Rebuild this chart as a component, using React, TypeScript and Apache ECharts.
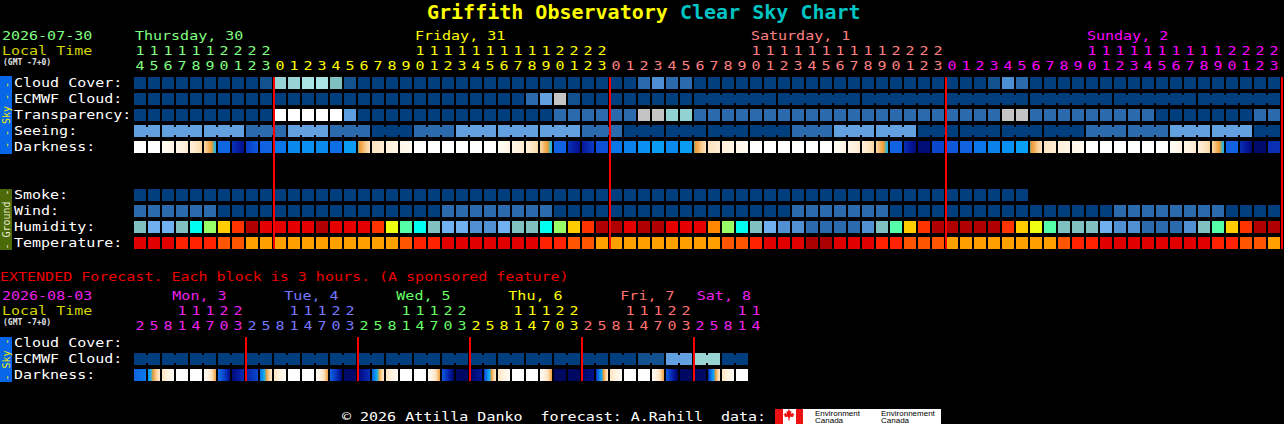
import React, { useEffect, useRef } from 'react';
import * as echarts from 'echarts';

const FONT = '"DejaVu Sans Mono", "Liberation Mono", monospace';

// ---------- time axis (tick labels) ----------
const FULL_DAY = [0, 1, 2, 3, 4, 5, 6, 7, 8, 9, 10, 11, 12, 13, 14, 15, 16, 17, 18, 19, 20, 21, 22, 23];
const EXT_DAY = [2, 5, 8, 11, 14, 17, 20, 23];

const mainDate = '2026-07-30';
const mainDayNames = ['Thursday, 30', 'Friday, 31', 'Saturday, 1', 'Sunday, 2'];
const mainDayHours = [[14, 15, 16, 17, 18, 19, 20, 21, 22, 23], FULL_DAY, FULL_DAY, FULL_DAY];

const extDate = '2026-08-03';
const extDayNames = ['Mon, 3', 'Tue, 4', 'Wed, 5', 'Thu, 6', 'Fri, 7', 'Sat, 8'];
const extDayHours = [EXT_DAY, EXT_DAY, EXT_DAY, EXT_DAY, EXT_DAY, [2, 5, 8, 11, 14]];

const skyRows = ['Cloud Cover:', 'ECMWF Cloud:', 'Transparency:', 'Seeing:', 'Darkness:'];
const groundRows = ['Smoke:', 'Wind:', 'Humidity:', 'Temperature:'];
const extRows = ['Cloud Cover:', 'ECMWF Cloud:', 'Darkness:'];

// ---------- hourly forecast ----------
// cloud cover, %
const cloudCover = [
  0, 0, 0, 0, 0, 0, 0, 0, 0, 10,
  60, 60, 70, 70, 50, 10, 0, 0, 0, 0,
  0, 0, 0, 0, 0, 0, 0, 0, 0, 0,
  0, 0, 0, 0, 0, 0, 20, 30, 20, 20,
  0, 0, 0, 0, 0, 0, 0, 0, 0, 0,
  0, 0, 0, 0, 0, 0, 0, 0, 0, 0,
  0, 10, 30, 20, 0, 0, 0, 0, 0, 0,
  0, 0, 0, 0, 0, 0, 0, 0, 0, 0,
  0, 0,
];
// ECMWF cloud, %: hourly first, then 6 hour blocks
const ecmwfHourly = [
  0, 0, 0, 0, 0, 0, 0, 0, 0, 0,
  0, 0, 0, 0, 0, 0, 0, 0, 0, 0,
  0, 0, 0, 0, 0, 0, 0, 0, 20, 40,
  80, 10, 0, 0, 0, 0, 0, 0, 0, 0,
];
const ecmwfSixHourly = [0, 0, 0, 0, 0, 0, 0];
// 0 transparent, 1 above avg, 2 average, 3 below avg, 4 poor, 5 too cloudy
const transparency = [
  0, 0, 0, 0, 0, 0, 0, 0, 0, 0,
  5, 5, 5, 5, 5, 2, 0, 0, 0, 0,
  0, 0, 0, 0, 0, 0, 0, 0, 0, 0,
  1, 1, 1, 1, 1, 1, 4, 4, 3, 3,
  1, 1, 1, 1, 1, 1, 1, 1, 1, 1,
  1, 1, 1, 1, 1, 1, 1, 1, 1, 1,
  1, 1, 4, 4, 1, 1, 1, 1, 1, 1,
  1, 1, 1, 0, 0, 0, 0, 0, 0, 0,
  1, 1,
];
// seeing x/5, one value per 3 hour block
const seeing3h = [3, 3, 3, 4, 3, 4, 5, 4, 3, 3, 3, 4, 5, 5, 5, 5, 4, 3, 3, 5, 5, 5, 5, 4, 4, 3, 3, 5];
// limiting magnitude; [start, end] when it changes within the hour
const darkness: (number | number[])[] = [
  -4, -4, [-3, -1.5], [-2, -0.5], [-1, 0.5], [0.5, 2.6], 4.7, [5.8, 6.4], [5.6, 5.0], 4.8,
  4.3, 3.8, 3.6, 3.8, 4.5, 3.2, [2.2, 0], [0, -0.8], [-1, -1.6], [-2, -2.6],
  -4, -4, -4, -4, -4, -4, [-3, -1.5], [-2, -0.5], [-1, 0.5], [0.5, 2.6],
  4.8, [5.8, 6.4], [6.2, 5.6], 5.2, 4.3, 4.0, 3.6, 3.2, 3.8, 3.2,
  [2.2, 0], [0, -0.8], [-1, -1.6], [-2, -2.6], -4, -4, -4, -4, -4, -4,
  [-3, -1.5], [-2, -0.5], [-1, 0.5], [0.5, 2.6], 4.8, [5.8, 6.6], 6.6, 5.4, 5.0, 4.8,
  4.3, 4.0, 3.6, 3.1, [2.2, 0], [0, -0.8], [-1, -1.6], [-2, -2.6], -4, -4,
  -4, -4, -4, -4, [-3, -1.5], [-2, -0.5], [-1, 0.5], [0.5, 2.6], 4.8, [5.8, 6.6],
  6.8, 5.8,
];
// smoke, ug/m^3
const smoke = [
  0, 0, 0, 0, 0, 0, 0, 0, 0, 0,
  0, 0, 0, 0, 0, 0, 0, 0, 0, 0,
  0, 0, 0, 0, 0, 0, 0, 0, 0, 0,
  0, 0, 0, 0, 0, 0, 0, 0, 0, 0,
  0, 0, 0, 0, 0, 0, 0, 0, 0, 0,
  0, 0, 0, 0, 0, 0, 0, 0, 0, 0,
  0, 0, 0, 0,
];
const windMph = [
  8, 8, 7, 7, 7, 6, 5, 4, 4, 3,
  3, 3, 3, 3, 3, 3, 3, 4, 4, 5,
  5, 5, 6, 7, 8, 8, 8, 7, 7, 6,
  5, 4, 4, 3, 3, 3, 3, 3, 3, 3,
  3, 3, 3, 4, 4, 5, 5, 6, 7, 8,
  8, 8, 7, 6, 5, 5, 4, 3, 3, 3,
  3, 3, 3, 3, 3, 3, 4, 4, 5, 5,
  6, 7, 8, 9, 9, 8, 7, 6, 5, 4,
  4, 3,
];
const humidity = [
  43, 38, 38, 43, 48, 58, 68, 78, 94, 86,
  86, 86, 86, 94, 86, 86, 86, 78, 63, 53,
  48, 43, 38, 38, 33, 33, 38, 43, 43, 48,
  58, 68, 78, 94, 94, 86, 94, 94, 86, 86,
  86, 73, 58, 48, 43, 38, 33, 33, 28, 28,
  28, 28, 33, 43, 53, 68, 78, 94, 94, 94,
  94, 94, 78, 68, 63, 53, 43, 43, 43, 38,
  33, 33, 28, 28, 28, 33, 43, 53, 68, 78,
  94, 94,
];
const temperatureF = [
  84, 83, 82, 78, 77, 76, 74, 72, 70, 69,
  68, 67, 67, 66, 66, 65, 65, 66, 68, 72,
  76, 78, 81, 83, 85, 86, 85, 84, 82, 79,
  77, 74, 72, 70, 69, 68, 67, 66, 65, 65,
  66, 68, 72, 74, 78, 82, 84, 86, 88, 88,
  86, 84, 81, 78, 76, 75, 73, 71, 70, 69,
  68, 67, 66, 66, 67, 69, 72, 76, 78, 80,
  82, 84, 85, 85, 84, 83, 81, 79, 77, 74,
  72, 70,
];

// ---------- extended forecast, 3 hour blocks ----------
const extEcmwf6h = [0, 0, 0, 0, 0, 0, 0, 0, 0, 0, 0, 0, 0, 0, 0, 0, 0, 0, 10, 40, 60, 0];
const extDarkness: (number | number[])[] = [
  [4.8, 4.2], [3.5, -0.5], [0, -3], -4, -4, [-3, 1.8], [4.5, 6.4], [6.6, 5.8],
  [6.0, 5.4], [4.5, -0.5], [0, -3], -4, -4, [-3, 1.8], [4.8, 6.6], 6.8,
  [6.6, 5.8], [5.0, -0.5], [0, -3], -4, -4, [-3, 1.8], [5.0, 6.8], 6.9,
  [6.8, 6.2], [5.5, -0.5], [0, -3], -4, -4, [-3, 1.8], 6.9, 6.9,
  [6.8, 6.4], [5.8, -0.5], [0, -3], -4, -4, [-3, 1.8], [5.0, 6.9], 6.9,
  6.9, [6.0, -0.5], [0, -3], -4,
];

// ---------- colours ----------
const mainDayColors = ['#80ff80', '#ffff00', '#ff8080', '#ff00ff'];
const extDayColors = ['#ee22ee', '#7878ff', '#66ff66', '#ffff00', '#ff7070', '#ee22ee'];
const CLOUD_COLORS = ['#003e7e', '#13508e', '#2a6aad', '#4d8fd2', '#62a0e0', '#80c0c0', '#99d4d4', '#a8e4e4', '#c4c4c4', '#e2e2e2', '#ffffff'];
const TRANSPARENCY_COLORS = ['#003e7e', '#2a6aad', '#5c9ee0', '#92d2d2', '#c4c4c4', '#ffffff'];
const SEEING_COLORS = ['#c4c4c4', '#c4c4c4', '#80c0c0', '#62a0e0', '#2a6aad', '#003e7e'];
const SMOKE_BANDS: [number, string][] = [[2, '#003e7e'], [5, '#2a6aad'], [10, '#62a0e0'], [999, '#80c0c0']];
const WIND_BANDS: [number, string][] = [[5, '#003e7e'], [11, '#2a6aad'], [16, '#62a0e0'], [999, '#80c0c0']];
const HUMIDITY_BANDS: [number, string][] = [
  [30, '#2a6aad'], [35, '#4f8fd2'], [40, '#70b0f0'], [45, '#80c0c0'], [50, '#00ffee'], [55, '#55ffaa'],
  [60, '#99ff66'], [65, '#eeff11'], [70, '#ffcc00'], [75, '#ff8800'], [80, '#ff3300'], [90, '#e40000'], [100, '#b00000'],
];
const TEMP_BANDS: [number, string][] = [[70, '#ffa000'], [75, '#ff5500'], [79, '#ff2200'], [86, '#e00000'], [200, '#aa0000']];
const DARK_RAMP: [number, string][] = [
  [-4, '#ffffff'], [-2.5, '#fffaf0'], [-1, '#fff0da'], [0, '#fde3bf'], [0.8, '#f8cd92'], [1.4, '#f3ae5a'],
  [1.9, '#eb9a2c'], [2.3, '#38b6d0'], [3.0, '#0aa2f8'], [3.6, '#0a90f0'], [4.2, '#0a7ae8'], [4.8, '#1062e0'],
  [5.3, '#0a4cd2'], [5.8, '#082fb4'], [6.2, '#04189c'], [6.6, '#000c78'], [7.0, '#00085a'],
];

const band = (bands: [number, string][], v: number) => (bands.find((b) => v <= b[0]) || bands[bands.length - 1])[1];

const hex = (c: string) => [1, 3, 5].map((i) => parseInt(c.slice(i, i + 2), 16));
const mix = (a: string, b: string, t: number) => {
  const x = hex(a);
  const y = hex(b);
  return `rgb(${x.map((v, i) => Math.round(v + (y[i] - v) * t)).join(',')})`;
};
const rampColor = (m: number) => {
  if (m <= DARK_RAMP[0][0]) return DARK_RAMP[0][1];
  for (let i = 1; i < DARK_RAMP.length; i++) {
    if (m <= DARK_RAMP[i][0]) {
      const [m0, c0] = DARK_RAMP[i - 1];
      const [m1, c1] = DARK_RAMP[i];
      return mix(c0, c1, (m - m0) / (m1 - m0));
    }
  }
  return DARK_RAMP[DARK_RAMP.length - 1][1];
};
const darkFill = (v: number | number[]) => {
  if (!Array.isArray(v)) return rampColor(v);
  const stops = [];
  for (let k = 0; k <= 8; k++) stops.push({ offset: k / 8, color: rampColor(v[0] + ((v[1] - v[0]) * k) / 8) });
  return new echarts.graphic.LinearGradient(0, 0, 1, 0, stops);
};

// ---------- cells ----------
type Cell = { col: number; row: number; fill: any; join: boolean };
const push = (list: Cell[], col: number, row: number, fill: any, join = false) => list.push({ col, row, fill, join });

const mainCells: Cell[] = [];
cloudCover.forEach((v, c) => push(mainCells, c, 0, CLOUD_COLORS[v / 10]));
ecmwfHourly.forEach((v, c) => push(mainCells, c, 1, CLOUD_COLORS[v / 10]));
ecmwfSixHourly.forEach((v, b) => {
  for (let k = 0; k < 6; k++) push(mainCells, ecmwfHourly.length + b * 6 + k, 1, CLOUD_COLORS[v / 10], k < 5);
});
transparency.forEach((v, c) => push(mainCells, c, 2, TRANSPARENCY_COLORS[v]));
seeing3h.forEach((v, g) => {
  const from = Math.max(0, g * 3 - 1);
  const to = Math.min(cloudCover.length - 1, g * 3 + 1);
  for (let c = from; c <= to; c++) push(mainCells, c, 3, SEEING_COLORS[v], c < to);
});
darkness.forEach((v, c) => push(mainCells, c, 4, darkFill(v)));
smoke.forEach((v, c) => push(mainCells, c, 7, band(SMOKE_BANDS, v)));
windMph.forEach((v, c) => push(mainCells, c, 8, band(WIND_BANDS, v)));
humidity.forEach((v, c) => push(mainCells, c, 9, band(HUMIDITY_BANDS, v)));
temperatureF.forEach((v, c) => push(mainCells, c, 10, band(TEMP_BANDS, v)));

const extCells: Cell[] = [];
extEcmwf6h.forEach((v, b) => {
  for (let k = 0; k < 2; k++) push(extCells, b * 2 + k, 1, CLOUD_COLORS[v / 10], k < 1);
});
extDarkness.forEach((v, c) => push(extCells, c, 2, darkFill(v)));

const colInfo = (dayHours: number[][]) => {
  const out: { day: number; hour: number }[] = [];
  dayHours.forEach((hs, d) => hs.forEach((h) => out.push({ day: d, hour: h })));
  return out;
};
const dayStarts = (dayHours: number[][]) => {
  let s = 0;
  return dayHours.map((hs) => {
    const st = s;
    s += hs.length;
    return st;
  });
};

const mainCols = colInfo(mainDayHours);
const extCols = colInfo(extDayHours);
const mainLines = dayStarts(mainDayHours).slice(1).concat([mainCols.length]);
const extLines = dayStarts(extDayHours).slice(1);

const mainRowLabels = [
  ...skyRows.map((text, i) => ({ text, row: i })),
  ...groundRows.map((text, i) => ({ text, row: 7 + i })),
];
const extRowLabels = extRows.map((text, i) => ({ text, row: i }));

// ---------- text helpers ----------
const GAP = 2;
const PAD = 2;
const CHAR_W = 9.03; // the chart's pixel font is 9px per character
const SIZE = 12.5; // smaller glyphs, stretched back to 9px per char
const STRETCH = CHAR_W / (SIZE * 0.602);

const textEl = (text: string, x: number, y: number, fill: string, size = SIZE, align = 'left', bold = false) => ({
  type: 'text',
  x,
  y,
  scaleX: size === SIZE ? STRETCH : 1,
  silent: true,
  style: {
    text,
    x: 0,
    y: 0,
    fill,
    font: `${bold ? 'bold ' : ''}${size}px ${FONT}`,
    align,
    textAlign: align,
    verticalAlign: 'middle',
    textVerticalAlign: 'middle',
  },
});

// ---------- series builders ----------
const blockSeries = (cells: Cell[], axis: number) => ({
  type: 'custom',
  xAxisIndex: axis,
  yAxisIndex: axis,
  silent: true,
  clip: false,
  data: cells.map((c) => [c.col, c.row]),
  renderItem: (params: any, api: any) => {
    const cell = cells[params.dataIndex];
    const a = api.coord([api.value(0), api.value(1)]);
    const b = api.coord([api.value(0) + 1, api.value(1) + 1]);
    const w = b[0] - a[0] - GAP;
    const h = b[1] - a[1] - 2 * PAD;
    const children: any[] = [
      { type: 'rect', shape: { x: a[0], y: a[1] + PAD, width: w, height: h }, style: { fill: cell.fill } },
    ];
    if (cell.join) {
      children.push({
        type: 'rect',
        shape: { x: a[0] + w, y: a[1] + PAD + 2, width: GAP, height: h - 4 },
        style: { fill: cell.fill },
      });
    }
    return { type: 'group', children };
  },
});

const lineSeries = (cols: number[], rows: number, axis: number) => ({
  type: 'custom',
  xAxisIndex: axis,
  yAxisIndex: axis,
  silent: true,
  clip: false,
  z: 4,
  data: cols.map((c) => [c, 0]),
  renderItem: (params: any, api: any) => {
    const x = api.coord([api.value(0), 0])[0];
    const top = api.coord([0, 0])[1] + PAD;
    const bottom = api.coord([0, rows])[1] - PAD;
    return { type: 'rect', shape: { x: x - 1, y: top, width: 2, height: bottom - top }, style: { fill: '#ff0000' } };
  },
});

const hourSeries = (cols: { day: number; hour: number }[], colors: string[], axis: number) => ({
  type: 'custom',
  xAxisIndex: axis,
  yAxisIndex: axis,
  silent: true,
  clip: false,
  data: cols.map((c, i) => [i, 0]),
  renderItem: (params: any, api: any) => {
    const info = cols[params.dataIndex];
    const l = api.coord([api.value(0), 0]);
    const r = api.coord([api.value(0) + 1, 0]);
    const cx = (l[0] + r[0] - GAP) / 2;
    const fill = colors[info.day];
    const children: any[] = [textEl(String(info.hour % 10), cx, l[1] - 10, fill, SIZE, 'center')];
    if (info.hour >= 10) {
      children.push(textEl(String(Math.floor(info.hour / 10)), cx, l[1] - 25, fill, SIZE, 'center'));
    }
    return { type: 'group', children };
  },
});

const daySeries = (names: string[], dayHours: number[][], colors: string[], bars: number, axis: number) => {
  const starts = dayStarts(dayHours);
  return {
    type: 'custom',
    xAxisIndex: axis,
    yAxisIndex: axis,
    silent: true,
    clip: false,
    data: names.map((n, d) => {
      const hs = dayHours[d];
      const step = hs[1] - hs[0];
      return [starts[d] + (10 - hs[0]) / step, 0];
    }),
    renderItem: (params: any, api: any) => {
      const name = names[params.dataIndex];
      const p = api.coord([api.value(0), 0]);
      const minX = api.coord([0, 0])[0];
      const maxX = api.coord([bars, 0])[0] - name.length * CHAR_W;
      const x = Math.max(minX, Math.min(p[0], maxX)) + 1;
      return textEl(name, x, p[1] - 40, colors[params.dataIndex]);
    },
  };
};

const rowLabelSeries = (rows: { text: string; row: number }[], axis: number) => ({
  type: 'custom',
  xAxisIndex: axis,
  yAxisIndex: axis,
  silent: true,
  clip: false,
  data: rows.map((r) => [0, r.row]),
  renderItem: (params: any, api: any) => {
    const y = api.coord([0, api.value(1) + 0.5])[1] - 1;
    return textEl(rows[params.dataIndex].text, 14, y, '#ffffff');
  },
});

// ---------- fixed parts ----------
const sideBar = (label: string, y: number, h: number, fill: string, color: string) => ({
  type: 'group',
  silent: true,
  children: [
    { type: 'rect', shape: { x: 0, y, width: 12, height: h }, style: { fill } },
    { ...textEl(label, 6, y + h / 2, color, 10, 'center'), rotation: Math.PI / 2 },
  ],
});

const leaf = [
  [0, -6.5], [1.2, -4], [2.5, -4.6], [2, -1.5], [4.5, -3], [4, -1.5], [5.5, -1], [4, 0.5], [4.5, 1.5],
  [1, 1.2], [0.5, 3.5], [0.5, 5], [-0.5, 5], [-0.5, 3.5], [-1, 1.2], [-4.5, 1.5], [-4, 0.5], [-5.5, -1],
  [-4, -1.5], [-4.5, -3], [-2, -1.5], [-2.5, -4.6], [-1.2, -4],
].map(([x, y]) => [789 + x, 415.5 + y]);

const logoText = (text: string, x: number, y: number) => ({
  type: 'text',
  x,
  y,
  silent: true,
  style: { text, x: 0, y: 0, fill: '#000000', font: '8px "Liberation Sans", sans-serif', verticalAlign: 'middle', textVerticalAlign: 'middle' },
});

const graphic = [
  textEl('Griffith Observatory', 427, 12, '#ffff00', 20, 'left', true),
  textEl('Clear Sky Chart', 680, 12, '#00c4c4', 20, 'left', true),
  textEl(mainDate, 2, 35, mainDayColors[0]),
  textEl('Local Time', 2, 50, '#d4d400'),
  textEl('(GMT -7+0)', 3, 62, '#e0e0e0', 8, 'left', true),
  sideBar('- - Sky - -', 76, 78, '#0866e8', '#f0f000'),
  sideBar('- Ground -', 189, 61, '#4d6a08', '#e8e8d0'),
  textEl('EXTENDED Forecast. Each block is 3 hours. (A sponsored feature)', 0, 276, '#ee0000'),
  textEl(extDate, 2, 295, extDayColors[0]),
  textEl('Local Time', 2, 310, '#d4d400'),
  textEl('(GMT -7+0)', 3, 322, '#e0e0e0', 8, 'left', true),
  sideBar('- Sky -', 337, 45, '#0866e8', '#f0f000'),
  textEl('\u00a9 2026 Attilla Danko  forecast: A.Rahill  data:', 342, 416, '#ffffff'),
  {
    type: 'group',
    silent: true,
    children: [
      { type: 'rect', shape: { x: 775, y: 409, width: 166, height: 15 }, style: { fill: '#ffffff' } },
      { type: 'rect', shape: { x: 775, y: 409, width: 8, height: 15 }, style: { fill: '#ee1111' } },
      { type: 'rect', shape: { x: 796, y: 409, width: 7, height: 15 }, style: { fill: '#ee1111' } },
      { type: 'polygon', shape: { points: leaf }, style: { fill: '#ee1111' } },
      logoText('Environment', 815, 413),
      logoText('Canada', 815, 420),
      logoText('Environnement', 881, 413),
      logoText('Canada', 881, 420),
    ],
  },
];

const App = () => {
  const chartRef = useRef<HTMLDivElement>(null);

  useEffect(() => {
    if (!chartRef.current) return;
    document.body.style.margin = '0';
    document.body.style.background = '#000';
    const chart = echarts.init(chartRef.current, null, { renderer: 'svg' });

    chart.setOption({
      backgroundColor: '#000000',
      animation: false,
      grid: [
        { left: 134, top: 75, width: mainCols.length * 14, height: 11 * 16 },
        { left: 134, top: 335, width: extCols.length * 14, height: 3 * 16 },
      ],
      xAxis: [
        { gridIndex: 0, type: 'value', min: 0, max: mainCols.length, show: false },
        { gridIndex: 1, type: 'value', min: 0, max: extCols.length, show: false },
      ],
      yAxis: [
        { gridIndex: 0, type: 'value', min: 0, max: 11, inverse: true, show: false },
        { gridIndex: 1, type: 'value', min: 0, max: 3, inverse: true, show: false },
      ],
      series: [
        blockSeries(mainCells, 0),
        lineSeries(mainLines, 11, 0),
        hourSeries(mainCols, mainDayColors, 0),
        daySeries(mainDayNames, mainDayHours, mainDayColors, darkness.length, 0),
        rowLabelSeries(mainRowLabels, 0),
        blockSeries(extCells, 1),
        lineSeries(extLines, 3, 1),
        hourSeries(extCols, extDayColors, 1),
        daySeries(extDayNames, extDayHours, extDayColors, extDarkness.length, 1),
        rowLabelSeries(extRowLabels, 1),
      ],
      graphic,
    });

    return () => {
      chart.dispose();
    };
  }, []);

  return (
    <div
      ref={chartRef}
      style={{ position: 'fixed', left: 0, top: 0, width: '1284px', height: '424px', background: '#000' }}
    />
  );
};

export default App;
